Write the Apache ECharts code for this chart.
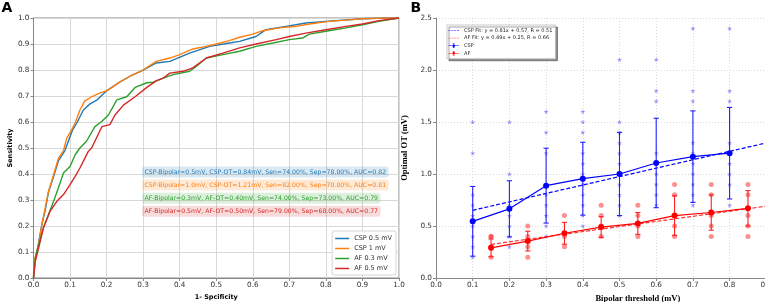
<!DOCTYPE html>
<html>
<head>
<meta charset="utf-8">
<script src="https://cdn.jsdelivr.net/npm/echarts@6/dist/echarts.min.js"></script>
<style>
  html, body { margin: 0; padding: 0; background: #fff; }
  #chart { width: 765px; height: 302px; }
</style>
</head>
<body>
<div id="chart"></div>
<script>
// Panel A: ROC curves, points are [1 - specificity, sensitivity]
const rocCsp05 = [[0,0],[0.002,0.06],[0.012,0.12],[0.022,0.2],[0.032,0.26],[0.041,0.33],[0.055,0.39],[0.068,0.45],[0.086,0.49],[0.107,0.57],[0.12,0.6],[0.136,0.645],[0.155,0.67],[0.173,0.684],[0.2,0.72],[0.237,0.754],[0.264,0.776],[0.296,0.797],[0.336,0.827],[0.373,0.833],[0.427,0.865],[0.482,0.891],[0.536,0.904],[0.564,0.91],[0.609,0.929],[0.636,0.955],[0.691,0.968],[0.745,0.981],[0.827,0.99],[0.9,0.997],[0.96,1],[1,1]]
const rocCsp10 = [[0,0],[0.002,0.064],[0.014,0.128],[0.023,0.205],[0.032,0.27],[0.041,0.333],[0.055,0.397],[0.068,0.46],[0.082,0.49],[0.091,0.538],[0.104,0.569],[0.115,0.6],[0.127,0.646],[0.14,0.68],[0.159,0.697],[0.182,0.712],[0.2,0.72],[0.237,0.754],[0.264,0.776],[0.296,0.797],[0.336,0.833],[0.373,0.846],[0.4,0.859],[0.436,0.881],[0.473,0.891],[0.5,0.9],[0.536,0.913],[0.564,0.926],[0.6,0.938],[0.627,0.951],[0.673,0.962],[0.718,0.968],[0.755,0.977],[0.809,0.987],[0.855,0.992],[0.9,0.997],[0.955,1],[1,1]]
const rocAf03 = [[0,0],[0.005,0.077],[0.014,0.128],[0.027,0.192],[0.041,0.244],[0.055,0.295],[0.068,0.346],[0.082,0.404],[0.1,0.429],[0.114,0.474],[0.127,0.5],[0.145,0.526],[0.168,0.582],[0.185,0.6],[0.205,0.627],[0.228,0.685],[0.255,0.697],[0.278,0.733],[0.31,0.751],[0.327,0.753],[0.355,0.769],[0.382,0.782],[0.427,0.795],[0.445,0.814],[0.473,0.846],[0.518,0.859],[0.564,0.872],[0.609,0.891],[0.655,0.904],[0.7,0.917],[0.736,0.923],[0.755,0.938],[0.8,0.949],[0.855,0.962],[0.9,0.974],[0.945,0.987],[1,1]]
const rocAf05 = [[0,0],[0.005,0.064],[0.014,0.115],[0.027,0.192],[0.045,0.256],[0.064,0.295],[0.082,0.321],[0.1,0.359],[0.114,0.391],[0.127,0.423],[0.15,0.487],[0.159,0.5],[0.187,0.582],[0.209,0.59],[0.223,0.627],[0.246,0.665],[0.278,0.697],[0.31,0.733],[0.337,0.759],[0.355,0.769],[0.373,0.788],[0.409,0.795],[0.436,0.808],[0.473,0.846],[0.518,0.865],[0.564,0.885],[0.609,0.9],[0.664,0.917],[0.7,0.929],[0.745,0.942],[0.8,0.955],[0.855,0.968],[0.9,0.977],[0.945,0.99],[1,1]]
const rocNames = ['CSP 0.5 mV', 'CSP 1 mV', 'AF 0.3 mV', 'AF 0.5 mV']
const rocColors = ['#1f77b4', '#ff7f0e', '#2ca02c', '#d62728']
const rocNotes = [
  'CSP-Bipolar=0.5mV, CSP-OT=0.84mV, Sen=74.00%, Sep=78.00%, AUC=0.82',
  'CSP-Bipolar=1.0mV, CSP-OT=1.21mV, Sen=82.00%, Sep=70.00%, AUC=0.81',
  'AF-Bipolar=0.3mV, AF-OT=0.40mV, Sen=74.00%, Sep=73.00%, AUC=0.79',
  'AF-Bipolar=0.5mV, AF-OT=0.50mV, Sen=79.00%, Sep=68.00%, AUC=0.77'
]

// Panel B: optimal OT against bipolar threshold
const cspThresholds = [0.1, 0.2, 0.3, 0.4, 0.5, 0.6, 0.7, 0.8]
const cspMean = [0.545, 0.665, 0.888, 0.955, 1.0, 1.106, 1.167, 1.2]
const cspStd = [0.335, 0.27, 0.36, 0.35, 0.4, 0.43, 0.44, 0.44]
const cspPoints = [
  [1.5, 1.2, 0.8, 0.7, 0.6, 0.5, 0.4, 0.3, 0.2],
  [1.5, 1.0, 0.7, 0.6, 0.5, 0.4, 0.3],
  [1.6, 1.4, 1.2, 0.8, 0.7, 0.6, 0.5, 0.4],
  [1.6, 1.5, 1.4, 1.2, 1.1, 1.0, 0.9, 0.8, 0.7, 0.6, 0.5],
  [2.1, 1.5, 1.4, 1.3, 1.2, 1.1, 1.0, 0.9, 0.8, 0.7, 0.6],
  [2.1, 1.8, 1.7, 1.2, 1.0, 0.9, 0.8, 0.7],
  [2.4, 1.8, 1.7, 1.3, 1.2, 1.1, 1.0, 0.9, 0.8, 0.7],
  [2.4, 1.8, 1.7, 1.3, 1.2, 1.1, 1.0, 0.9, 0.7]
]
const afThresholds = [0.15, 0.25, 0.35, 0.45, 0.55, 0.65, 0.75, 0.85]
const afMean = [0.29, 0.355, 0.43, 0.49, 0.525, 0.6, 0.63, 0.67]
const afStd = [0.085, 0.095, 0.105, 0.1, 0.105, 0.19, 0.17, 0.17]
const afPoints = [
  [0.4, 0.4, 0.3, 0.2],
  [0.5, 0.4, 0.3, 0.2],
  [0.6, 0.4, 0.3],
  [0.7, 0.6, 0.5, 0.4],
  [0.7, 0.6, 0.5, 0.4],
  [0.9, 0.8, 0.5, 0.4],
  [0.9, 0.8, 0.6, 0.5, 0.4],
  [0.9, 0.8, 0.6, 0.5, 0.4]
]
const cspFitSlope = 0.81
const cspFitIntercept = 0.57
const cspFitRange = [0.1, 1.0]
const afFitSlope = 0.49
const afFitIntercept = 0.25
const afFitRange = [0.15, 1.0]
const cspFitName = 'CSP Fit: y = 0.81x + 0.57, R = 0.51'
const afFitName = 'AF Fit: y = 0.49x + 0.25, R = 0.66'

const STAR = 'path://M50,0 L61,35 L98,35 L68,57 L79,91 L50,70 L21,91 L32,57 L2,35 L39,35 Z'
const ERR_ICON = 'path://M0,4.4h21v1.2h-21z M10,0.6h1v8.8h-1z M8.5,0.6h4v0.8h-4z M8.5,8.6h4v0.8h-4z M11.5,2.5 L13,4 L13,6 L11.5,7.5 L9.5,7.5 L8,6 L8,4 L9.5,2.5 Z'
const DASH_ICON = 'path://M0,0h3.5v1h-3.5z M5,0h3.5v1h-3.5z M10,0h3.5v1h-3.5z M15,0h3.5v1h-3.5z'
const LINE_ICON = 'path://M0,0H28V3H0Z'

function flatten (xs, lists) {
  let out = []
  for (let i = 0; i < xs.length; i++) {
    for (let j = 0; j < lists[i].length; j++) {
      out.push([xs[i], lists[i][j]])
    }
  }
  return out
}

function fitLine (range, slope, intercept) {
  return range.map(x => [x, slope * x + intercept])
}

function errorBars (color) {
  return function (params, api) {
    const x = api.value(0)
    const m = api.value(1)
    const s = api.value(2)
    const top = api.coord([x, m + s])
    const bot = api.coord([x, m - s])
    const w = 2.6
    const style = { stroke: color, lineWidth: 1.1 }
    return {
      type: 'group',
      children: [
        { type: 'line', shape: { x1: top[0], y1: top[1], x2: bot[0], y2: bot[1] }, style: style },
        { type: 'line', shape: { x1: top[0] - w, y1: top[1], x2: top[0] + w, y2: top[1] }, style: style },
        { type: 'line', shape: { x1: bot[0] - w, y1: bot[1], x2: bot[0] + w, y2: bot[1] }, style: style }
      ]
    }
  }
}

const chart = echarts.init(document.getElementById('chart'))
const fmt1 = v => v.toFixed(1)
const tickFont = { fontSize: 7.3, color: '#333', fontFamily: 'DejaVu Sans' }

const rocSeries = [rocCsp05, rocCsp10, rocAf03, rocAf05].map((d, i) => ({
  name: rocNames[i],
  type: 'line',
  xAxisIndex: 0,
  yAxisIndex: 0,
  data: d,
  symbol: 'none',
  lineStyle: { color: rocColors[i], width: 1.4 },
  itemStyle: { color: rocColors[i] },
  z: 3 + i
}))

const notes = rocNotes.map((t, i) => ({
  type: 'text',
  x: 142,
  y: [172, 185, 198.2, 211.2][i],
  z: 50,
  style: {
    text: t,
    fill: rocColors[i],
    font: '6.2px "DejaVu Sans"',
    verticalAlign: 'middle',
    backgroundColor: echarts.color.modifyAlpha(rocColors[i], 0.16),
    padding: [2.7, 2.5, 2.3, 2.5],
    borderRadius: 3
  }
}))

const option = {
  animation: false,
  textStyle: { fontFamily: 'DejaVu Sans' },
  grid: [
    { left: 33.5, top: 18, width: 365.5, height: 260, show: true, borderColor: '#888', borderWidth: 1, outerBoundsMode: 'none' },
    { left: 436, top: 18, width: 403.7, height: 260, outerBoundsMode: 'none' }
  ],
  xAxis: [
    {
      gridIndex: 0, type: 'value', min: 0, max: 1, interval: 0.1,
      name: '1- Spcificity', nameLocation: 'middle', nameGap: 15,
      nameTextStyle: { fontSize: 6.5, fontWeight: 'bold', color: '#000' },
      axisLine: { show: true, lineStyle: { color: '#888' } },
      axisTick: { show: true, length: 3, lineStyle: { color: '#888' } },
      axisLabel: Object.assign({ formatter: fmt1, margin: 4 }, tickFont),
      splitLine: { show: true, lineStyle: { color: '#d8d8d8', width: 1 } }
    },
    {
      gridIndex: 1, type: 'value', min: 0, max: 1.1, interval: 0.1,
      name: 'Bipolar threshold (mV)', nameLocation: 'middle', nameGap: 14,
      nameTextStyle: { fontSize: 8.5, fontWeight: 'bold', color: '#000', fontFamily: 'Liberation Serif' },
      axisLine: { show: true, lineStyle: { color: '#888' } },
      axisTick: { show: true, length: 3, lineStyle: { color: '#888' } },
      axisLabel: Object.assign({ formatter: fmt1, margin: 4 }, tickFont),
      splitLine: { show: true, lineStyle: { color: '#cfcfcf', width: 0.8, type: [1, 2] } }
    }
  ],
  yAxis: [
    {
      gridIndex: 0, type: 'value', min: 0, max: 1, interval: 0.1,
      name: 'Sensitivity', nameLocation: 'middle', nameGap: 17,
      nameTextStyle: { fontSize: 6.5, fontWeight: 'bold', color: '#000' },
      axisLine: { show: true, lineStyle: { color: '#888' } },
      axisTick: { show: true, length: 3, lineStyle: { color: '#888' } },
      axisLabel: Object.assign({ formatter: fmt1, margin: 4 }, tickFont),
      splitLine: { show: true, lineStyle: { color: '#d8d8d8', width: 1 } }
    },
    {
      gridIndex: 1, type: 'value', min: 0, max: 2.5, interval: 0.5,
      name: 'Optimal OT (mV)', nameLocation: 'middle', nameGap: 16,
      nameTextStyle: { fontSize: 8.5, fontWeight: 'bold', color: '#000', fontFamily: 'Liberation Serif' },
      axisLine: { show: true, lineStyle: { color: '#888' } },
      axisTick: { show: true, length: 3, lineStyle: { color: '#888' } },
      axisLabel: Object.assign({ formatter: fmt1, margin: 4 }, tickFont),
      splitLine: { show: true, lineStyle: { color: '#cfcfcf', width: 0.8, type: [1, 2] } }
    }
  ],
  legend: [
    {
      orient: 'vertical', right: 369, bottom: 27,
      itemWidth: 14, itemHeight: 1.5, itemGap: 3,
      padding: [4, 4, 3, 3],
      backgroundColor: '#fff', borderColor: '#ccc', borderWidth: 0.8, borderRadius: 2,
      textStyle: { fontSize: 6.5, color: '#333' },
      data: rocNames.map(n => ({ name: n, icon: LINE_ICON }))
    },
    {
      orient: 'vertical', left: 447, top: 25,
      itemWidth: 10.5, itemHeight: 5, itemGap: 2.6,
      padding: [3, 3, 3, 1.5],
      backgroundColor: '#fff', borderColor: '#bbb', borderWidth: 0.8,
      shadowColor: 'rgba(0,0,0,0.45)', shadowOffsetX: 2, shadowOffsetY: 2, shadowBlur: 0,
      textStyle: { fontSize: 5, color: '#222' },
      data: [
        { name: cspFitName, icon: DASH_ICON },
        { name: afFitName, icon: DASH_ICON },
        { name: 'CSP', icon: ERR_ICON },
        { name: 'AF', icon: ERR_ICON }
      ]
    }
  ],
  graphic: [
    { type: 'text', x: 1.5, y: 8.5, style: { text: 'A', font: 'bold 14px "DejaVu Sans"', fill: '#000', verticalAlign: 'middle' } },
    { type: 'text', x: 410.5, y: 8.5, style: { text: 'B', font: 'bold 14px "DejaVu Sans"', fill: '#000', verticalAlign: 'middle' } }
  ].concat(notes),
  series: rocSeries.concat([
    {
      name: 'CSP points', type: 'scatter', xAxisIndex: 1, yAxisIndex: 1,
      data: flatten(cspThresholds, cspPoints),
      symbol: STAR, symbolSize: 5,
      itemStyle: { color: 'rgba(40,40,255,0.6)' }, z: 2
    },
    {
      name: 'AF points', type: 'scatter', xAxisIndex: 1, yAxisIndex: 1,
      data: flatten(afThresholds, afPoints),
      symbol: 'circle', symbolSize: 5,
      itemStyle: { color: 'rgba(255,20,20,0.6)' }, z: 2
    },
    {
      name: cspFitName, type: 'line', xAxisIndex: 1, yAxisIndex: 1,
      data: fitLine(cspFitRange, cspFitSlope, cspFitIntercept),
      symbol: 'none',
      lineStyle: { color: '#0000ff', width: 1.2, type: [4, 2] },
      itemStyle: { color: '#0000ff' }, z: 4
    },
    {
      name: afFitName, type: 'line', xAxisIndex: 1, yAxisIndex: 1,
      data: fitLine(afFitRange, afFitSlope, afFitIntercept),
      symbol: 'none',
      lineStyle: { color: '#ff3030', width: 1.2, type: [4, 2] },
      itemStyle: { color: 'rgba(255,60,60,0.7)' }, z: 4
    },
    {
      name: 'CSP bars', type: 'custom', xAxisIndex: 1, yAxisIndex: 1,
      data: cspThresholds.map((x, i) => [x, cspMean[i], cspStd[i]]),
      encode: { x: 0, y: 1 },
      renderItem: errorBars('#1f1fff'), z: 5
    },
    {
      name: 'AF bars', type: 'custom', xAxisIndex: 1, yAxisIndex: 1,
      data: afThresholds.map((x, i) => [x, afMean[i], afStd[i]]),
      encode: { x: 0, y: 1 },
      renderItem: errorBars('#ff2020'), z: 5
    },
    {
      name: 'CSP', type: 'line', xAxisIndex: 1, yAxisIndex: 1,
      data: cspThresholds.map((x, i) => [x, cspMean[i]]),
      symbol: 'circle', symbolSize: 6,
      lineStyle: { color: '#0000ff', width: 1.2 },
      itemStyle: { color: '#0000ff' }, z: 6
    },
    {
      name: 'AF', type: 'line', xAxisIndex: 1, yAxisIndex: 1,
      data: afThresholds.map((x, i) => [x, afMean[i]]),
      symbol: 'circle', symbolSize: 6,
      lineStyle: { color: '#ff0000', width: 1.2 },
      itemStyle: { color: '#ff0000' }, z: 6
    }
  ])
}

chart.setOption(option)
</script>
</body>
</html>
